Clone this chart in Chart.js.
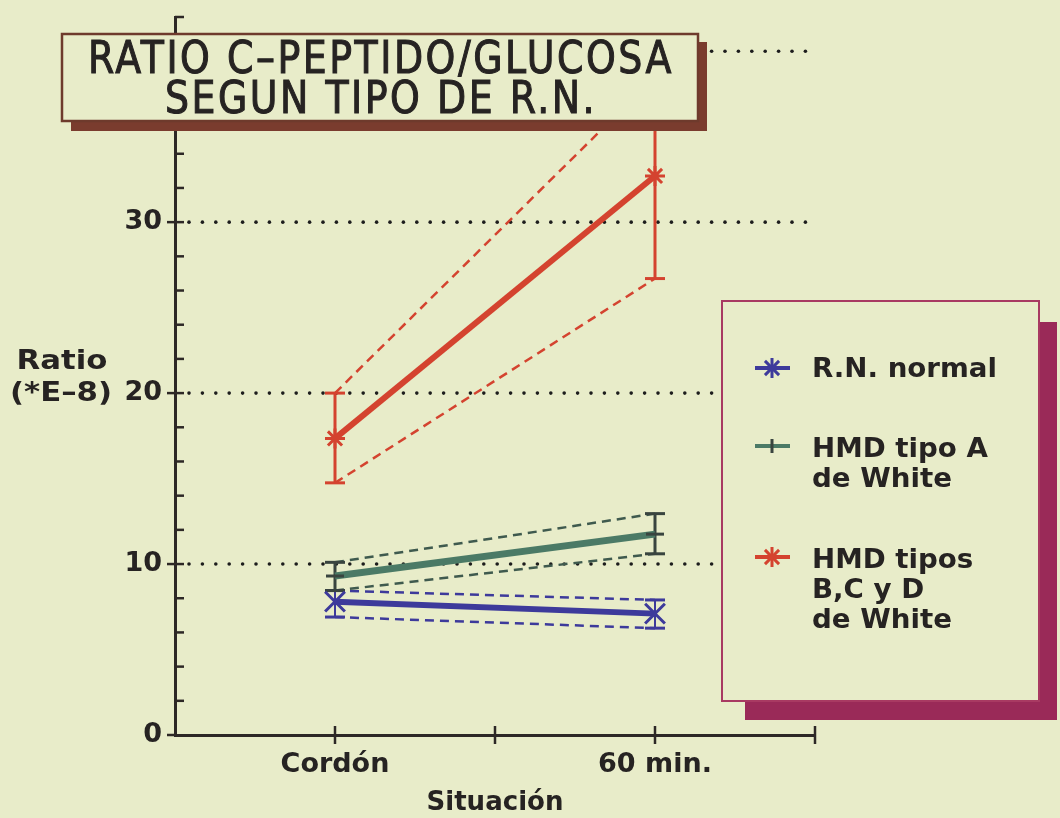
<!DOCTYPE html>
<html><head><meta charset="utf-8">
<script src="https://cdn.jsdelivr.net/npm/chart.js@4.4.1/dist/chart.umd.min.js"></script>
<style>html,body{margin:0;padding:0;background:#e8ecc9;}canvas{display:block}</style>
</head><body>
<canvas id="c" width="1060" height="818"></canvas>
<script>
// ---- data ----
const categories = ['Cordón', '60 min.'];
const categoryX = [1, 3];
const seriesNames = ['R.N. normal', 'HMD tipo A de White', 'HMD tipos B,C y D de White'];
const legendLines = [['R.N. normal'], ['HMD tipo A', 'de White'], ['HMD tipos', 'B,C y D', 'de White']];
const rnMean = [7.8, 7.1];
const rnUpper = [8.45, 7.9];
const rnLower = [6.9, 6.25];
const aMean = [9.3, 11.75];
const aUpper = [10.1, 12.95];
const aLower = [8.45, 10.6];
const bcdMean = [17.35, 32.7];
const bcdUpper = [20.0, 38.5];
const bcdLower = [14.75, 26.7];
const yTickLabels = [0, 10, 20, 30];
const gridValues = [10, 20, 30, 40];
const titleLines = ['RATIO C–PEPTIDO/GLUCOSA', 'SEGUN TIPO DE R.N.'];
const xTitle = 'Situación';
const yTitle = ['Ratio', '(*E–8)'];

// ---- styles ----
const BG = '#e8ecc9';
const INK = '#262322';
const FONT = '"DejaVu Sans", sans-serif';
const series = [
  {name: seriesNames[0], mean: rnMean, upper: rnUpper, lower: rnLower, color: '#3d3a9b', dash: '#3d3a9b', bar: '#3d3a9b', marker: 'crossRot', mr: 14, lw: 6},
  {name: seriesNames[1], mean: aMean, upper: aUpper, lower: aLower, color: '#4b7a66', dash: '#3f5a4e', bar: '#39443f', marker: 'line', mr: 9, lw: 7},
  {name: seriesNames[2], mean: bcdMean, upper: bcdUpper, lower: bcdLower, color: '#d4432f', dash: '#d4432f', bar: '#d4432f', marker: 'star', mr: 10, lw: 6}
];

function pts(vals) { return vals.map((v, i) => ({x: categoryX[i], y: v})); }

const datasets = [];
series.forEach((s, si) => {
  [s.upper, s.lower].forEach(arr => datasets.push({
    label: s.name + ' ±', data: pts(arr), borderColor: s.dash, borderWidth: 2.5,
    borderDash: [9, 6], pointRadius: 0, fill: false, order: 10 - si
  }));
  categoryX.forEach((cx, i) => datasets.push({
    label: s.name + ' err', data: [{x: cx, y: s.lower[i]}, {x: cx, y: s.upper[i]}],
    borderColor: s.bar, borderWidth: si === 0 ? 2 : 3, pointStyle: 'line', pointRadius: 10,
    pointBorderWidth: 3, pointBorderColor: s.bar, pointBackgroundColor: s.bar, order: 5 - si
  }));
  datasets.push({
    label: s.name, data: pts(s.mean), borderColor: s.color, borderWidth: s.lw,
    pointStyle: s.marker, pointRadius: s.mr, pointBorderWidth: 3,
    pointBorderColor: si === 1 ? s.bar : s.color, pointBackgroundColor: s.color, order: -si
  });
});

function fitText(ctx, text, x, y, sx, align, stroke) {
  ctx.save(); ctx.translate(x, y); ctx.scale(sx, 1); ctx.textAlign = align || 'left';
  ctx.fillText(text, 0, 0);
  if (stroke) { ctx.lineWidth = stroke; ctx.strokeText(text, 0, 0); }
  ctx.restore();
}
function drawStar(ctx, x, y, r) {
  for (let k = 0; k < 4; k++) {
    const a = k * Math.PI / 4;
    ctx.beginPath(); ctx.moveTo(x - Math.cos(a) * r, y - Math.sin(a) * r);
    ctx.lineTo(x + Math.cos(a) * r, y + Math.sin(a) * r); ctx.stroke();
  }
}

const decor = {
  id: 'decor',
  beforeDraw(chart) {
    const ctx = chart.ctx;
    ctx.save(); ctx.fillStyle = BG; ctx.fillRect(0, 0, chart.width, chart.height); ctx.restore();
  },
  beforeDatasetsDraw(chart) {
    const {ctx, chartArea: a, scales: {x, y}} = chart;
    ctx.save();
    ctx.fillStyle = '#1d1d1d';
    gridValues.forEach(v => {
      const py = y.getPixelForValue(v);
      for (let px = a.left + 14; px <= a.right + 1; px += 13.4) {
        ctx.beginPath(); ctx.arc(px, py, 1.8, 0, Math.PI * 2); ctx.fill();
      }
    });
    ctx.strokeStyle = '#2d2826'; ctx.lineWidth = 2.5;
    for (let v = 0; v <= 42; v += 2) {
      const py = y.getPixelForValue(v);
      ctx.beginPath();
      if (v % 10 === 0 && v <= 30) { ctx.moveTo(a.left - 8, py); ctx.lineTo(a.left + (v === 0 ? 0 : 9), py); }
      else { ctx.moveTo(a.left, py); ctx.lineTo(a.left + 9, py); }
      ctx.stroke();
    }
    for (let v = 1; v <= 4; v++) {
      const px = x.getPixelForValue(v);
      ctx.beginPath(); ctx.moveTo(px, a.bottom - 9); ctx.lineTo(px, a.bottom + 9); ctx.stroke();
    }
    ctx.restore();
  },
  afterDraw(chart) {
    const {ctx, scales: {x}} = chart;
    ctx.save();
    ctx.fillStyle = INK; ctx.strokeStyle = INK; ctx.textBaseline = 'alphabetic';
    ctx.font = 'bold 27px ' + FONT;
    let sx = 137 / ctx.measureText(xTitle).width;
    fitText(ctx, xTitle, x.getPixelForValue(2), 810, sx, 'center');
    sx = 102 / ctx.measureText(yTitle[1]).width;
    fitText(ctx, yTitle[0], 62, 369, sx, 'center');
    fitText(ctx, yTitle[1], 61, 401, sx, 'center');

    // title box
    ctx.fillStyle = '#7a3c2e';
    ctx.fillRect(71, 42, 636, 89);
    ctx.fillStyle = BG; ctx.fillRect(62, 34, 636, 87);
    ctx.strokeStyle = '#6e3a2c'; ctx.lineWidth = 2.5; ctx.strokeRect(62, 34, 636, 87);
    ctx.fillStyle = INK; ctx.strokeStyle = INK;
    ctx.font = '45px ' + FONT;
    ctx.letterSpacing = '3px';
    sx = 586 / ctx.measureText(titleLines[0]).width;
    fitText(ctx, titleLines[0], 381, 73, sx, 'center', 1.1);
    fitText(ctx, titleLines[1], 381, 113, sx, 'center', 1.1);
    ctx.letterSpacing = '0px';

    // legend box
    ctx.fillStyle = '#9a2a58'; ctx.fillRect(745, 322, 312, 398);
    ctx.fillStyle = BG; ctx.fillRect(722, 301, 317, 400);
    ctx.strokeStyle = '#a83a62'; ctx.lineWidth = 2; ctx.strokeRect(722, 301, 317, 400);
    const markerY = [368, 446, 557];
    const baselines = [[377], [457, 487], [568, 598, 628]];
    ctx.font = 'bold 26px ' + FONT;
    const lsx = 185 / ctx.measureText(legendLines[0][0]).width;
    series.forEach((s, i) => {
      const my = markerY[i];
      ctx.strokeStyle = s.color; ctx.lineWidth = 4;
      ctx.beginPath(); ctx.moveTo(755, my); ctx.lineTo(790, my); ctx.stroke();
      ctx.lineWidth = 3;
      if (s.marker === 'line') {
        ctx.strokeStyle = s.bar;
        ctx.beginPath(); ctx.moveTo(772, my - 7); ctx.lineTo(772, my + 7); ctx.stroke();
      } else {
        drawStar(ctx, 772, my, 10);
      }
      ctx.fillStyle = INK;
      legendLines[i].forEach((t, j) => fitText(ctx, t, 812, baselines[i][j], lsx, 'left'));
    });
    ctx.restore();
  }
};

new Chart(document.getElementById('c'), {
  type: 'line',
  data: {datasets},
  options: {
    responsive: false, animation: false, devicePixelRatio: 1,
    layout: {padding: {left: 0, right: 245, top: 13, bottom: 0}},
    plugins: {legend: {display: false}, tooltip: {enabled: false}, title: {display: false}},
    scales: {
      x: {
        type: 'linear', min: 0, max: 4,
        grid: {display: false, drawTicks: false},
        border: {display: true, color: '#2d2826', width: 3},
        ticks: {
          stepSize: 1, autoSkip: false, maxRotation: 0, padding: 14,
          color: INK, font: {family: FONT, size: 27, weight: 'bold'},
          callback: v => { const k = categoryX.indexOf(v); return k >= 0 ? categories[k] : ''; }
        },
        afterFit: s => { s.height = 83; s.paddingLeft = 0; s.paddingRight = 0; }
      },
      y: {
        type: 'linear', min: 0, max: 42,
        grid: {display: false, drawTicks: false},
        border: {display: true, color: '#2d2826', width: 3},
        ticks: {
          stepSize: 2, autoSkip: false, padding: 13,
          color: INK, font: {family: FONT, size: 27, weight: 'bold'},
          callback: v => yTickLabels.includes(v) ? String(v) : ''
        },
        afterFit: s => { s.width = 175; s.paddingTop = 0; s.paddingBottom = 0; }
      }
    }
  },
  plugins: [decor]
});
</script>
</body></html>
